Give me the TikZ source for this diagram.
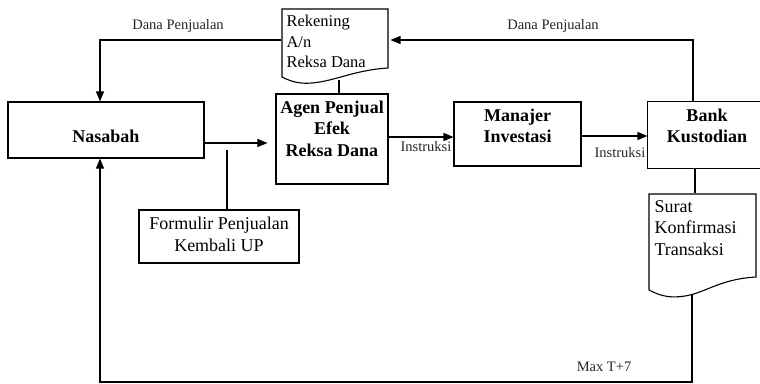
\documentclass[tikz,border=0pt]{standalone}
\usepackage{fontspec}
\setmainfont{Liberation Serif}
\usetikzlibrary{arrows.meta}
\begin{document}
\begin{tikzpicture}[x=1pt,y=-1pt,line width=1.1pt,
  box/.style={draw,rectangle,inner sep=0pt},
  ghost/.style={rectangle,inner sep=0pt},
  arr/.style={-{Triangle[length=10pt,width=8pt]}},
  big/.style={font=\fontsize{18}{21.5}\selectfont\bfseries,align=center,inner sep=0pt},
  body/.style={font=\fontsize{18}{22}\selectfont,align=center,inner sep=0pt},
  doctext/.style={align=left,anchor=north west,inner sep=0pt},
  small/.style={font=\fontsize{14.5}{17}\selectfont,inner sep=0pt,text=black!85}]
\useasboundingbox (0,0) rectangle (760,383);

% boxes
\node[box,minimum width=196pt,minimum height=56pt] (nas) at (106,130) {};
\node[big] (nast) at (106,136) {Nasabah};

\node[box,minimum width=112pt,minimum height=90pt] (agen) at (332,139) {};
\node[big] (agent) at (332,128.5) {Agen Penjual\\Efek\\Reksa Dana};

\node[box,minimum width=127pt,minimum height=64pt] (man) at (517.5,134) {};
\node[big] (mant) at (517.5,126) {Manajer\\Investasi};

\node[ghost,minimum width=112pt,minimum height=66pt] (bank) at (704,135) {};
\draw (bank.north east) -- (bank.north west) -- (bank.south west) -- (bank.south east);
\node[big] (bankt) at (707,126) {Bank\\Kustodian};

\node[box,minimum width=160pt,minimum height=53pt] (form) at (219,236.5) {};
\node[body] (formt) at (219,234) {Formulir Penjualan\\Kembali UP};

% document shapes
\node[ghost,minimum width=106pt,minimum height=62pt] (rek) at (335,40) {};
\draw (282,77) -- (282,9) -- (388,9) -- (388,68)
  .. controls (355,70) and (335,81) .. (312,83)
  .. controls (300,84) and (292,82) .. (282,77) -- cycle;
\node[doctext,font=\fontsize{16.5}{20}\selectfont] (rekt) at (286,15) {Rekening\\A/n\\Reksa Dana};
\coordinate (rekb) at (339,80);

\node[ghost,minimum width=107pt,minimum height=80pt] (sur) at (702.5,234) {};
\draw (649,290) -- (649,194) -- (756,194) -- (756,277)
  .. controls (720,279) and (705,293) .. (685,296)
  .. controls (672,298) and (662,297) .. (649,290) -- cycle;
\node[doctext,font=\fontsize{18}{21.5}\selectfont] (surt) at (654,200) {Surat\\Konfirmasi\\Transaksi};
\coordinate (surb) at (692,295);

% connectors
\draw[arr,shorten >=8pt] ([yshift=-13pt]nas.east) -- ([yshift=-13pt]nas.east -| agen.west);
\coordinate (fend) at (227,150);
\draw (form.north -| fend) -- (fend);

\draw[arr] (rek.west) -| ([xshift=-6pt]nas.north);
\node[small] (dana1) at (178,26) {Dana Penjualan};

\draw[arr,shorten >=2pt] ([xshift=-11pt]bank.north) |- (rek.east);
\node[small] (dana2) at (553,26) {Dana Penjualan};

\draw (rekb) -- (rekb |- agen.north);

\draw[arr] ([yshift=2pt]agen.east) -- ([yshift=2pt]agen.east -| man.west);
\node[small] (ins1) at (426,147) {Instruksi};

\draw[arr] ([yshift=-2pt]man.east) -- ([yshift=-2pt]man.east -| bank.west);
\node[small] (ins2) at (620,153) {Instruksi};

\draw ([xshift=-9pt]bank.south) -- ([xshift=-9pt]bank.south |- sur.north);

\coordinate (bl) at (100,382);
\draw[arr] (surb) |- (bl) -- (bl |- nas.south);
\node[small] (max) at (604,367) {Max T+7};
\end{tikzpicture}
\end{document}
